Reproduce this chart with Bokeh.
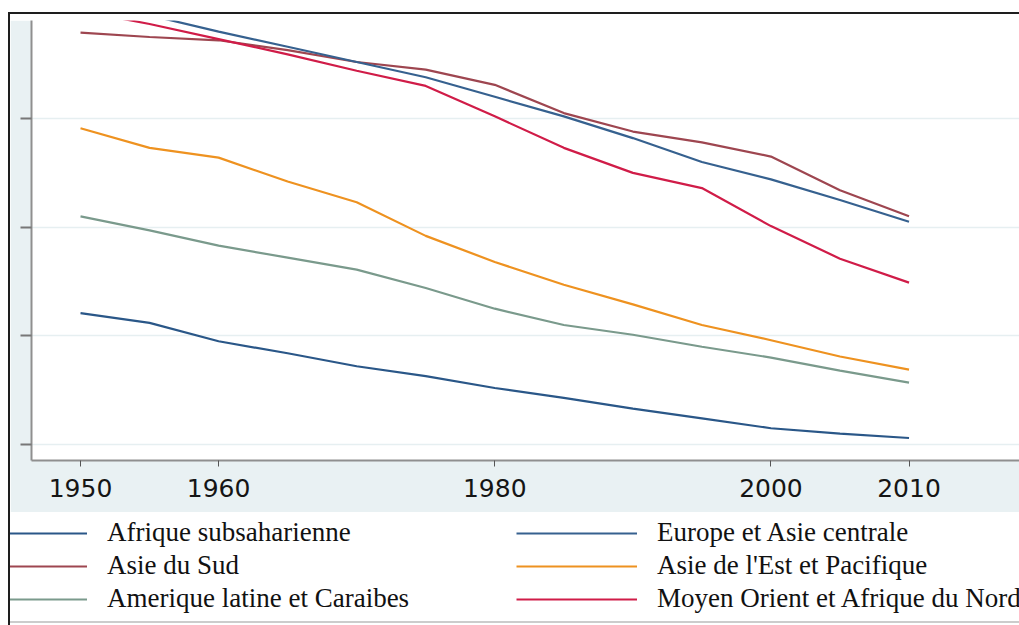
from bokeh.plotting import figure
from bokeh.models import (Legend, LegendItem, FixedTicker, CustomJSTickFormatter,
                          Range1d, Spacer)
from bokeh.layouts import column
from bokeh.embed import file_html
from bokeh.resources import INLINE

# ---------------- data ----------------
years = [1950, 1955, 1960, 1965, 1970, 1975, 1980, 1985, 1990, 1995, 2000, 2005, 2010]

afrique_subsaharienne = [2.21, 2.12, 1.95, 1.84, 1.72, 1.63, 1.52, 1.43, 1.33, 1.24, 1.15, 1.10, 1.06]
asie_du_sud = [4.79, 4.75, 4.72, 4.63, 4.52, 4.45, 4.31, 4.05, 3.88, 3.78, 3.65, 3.34, 3.10]
amerique_latine = [3.10, 2.97, 2.83, 2.72, 2.61, 2.44, 2.25, 2.10, 2.01, 1.90, 1.80, 1.68, 1.57]
europe_asie_centrale = [5.08, 4.95, 4.80, 4.66, 4.52, 4.38, 4.20, 4.02, 3.82, 3.60, 3.44, 3.25, 3.05]
asie_est_pacifique = [3.91, 3.73, 3.64, 3.42, 3.23, 2.92, 2.68, 2.47, 2.29, 2.10, 1.96, 1.81, 1.69]
moyen_orient = [4.99, 4.87, 4.73, 4.59, 4.44, 4.30, 4.02, 3.73, 3.50, 3.36, 3.01, 2.71, 2.49]

x_ticks = [1950, 1960, 1980, 2000, 2010]
y_ticks = [1, 2, 3, 4]

series = [
    ("Afrique subsaharienne", afrique_subsaharienne, "#2A5788"),
    ("Asie du Sud", asie_du_sud, "#9E4650"),
    ("Amerique latine et Caraibes", amerique_latine, "#7A9A8C"),
    ("Europe et Asie centrale", europe_asie_centrale, "#36618F"),
    ("Asie de l'Est et Pacifique", asie_est_pacifique, "#EE9220"),
    ("Moyen Orient et Afrique du Nord", moyen_orient, "#D01C48"),
]

BG = "#E9F1F3"

# ---------------- main chart ----------------
p = figure(width=1009, height=492, output_backend="svg", toolbar_location=None,
           x_range=Range1d(1946.45, 2018.0), y_range=Range1d(0.853, 4.902),
           min_border_left=21, min_border_right=0, min_border_top=0,
           min_border_bottom=52)
p.frame_align = False
p.border_fill_color = BG
p.background_fill_color = "white"
p.outline_line_color = None

for name, vals, col in series:
    p.line(years, vals, line_color=col, line_width=2.2)

p.xaxis.ticker = FixedTicker(ticks=x_ticks)
p.xaxis.axis_line_color = "#8F8F8F"
p.xaxis.axis_line_width = 2
p.xaxis.major_tick_line_color = "#555555"
p.xaxis.major_tick_line_width = 1
p.xaxis.major_tick_out = 6
p.xaxis.major_tick_in = 0
p.xaxis.minor_tick_line_color = None
p.xaxis.major_label_standoff = 12
p.xaxis.major_label_text_font = "DejaVu Sans"
p.xaxis.major_label_text_font_size = "25px"
p.xaxis.major_label_text_color = "#151515"

p.yaxis.ticker = FixedTicker(ticks=y_ticks)
p.yaxis.axis_line_color = "#8F8F8F"
p.yaxis.axis_line_width = 2
p.yaxis.major_tick_line_color = "#777777"
p.yaxis.major_tick_line_width = 2
p.yaxis.major_tick_out = 11
p.yaxis.major_tick_in = 0
p.yaxis.minor_tick_line_color = None
p.yaxis.formatter = CustomJSTickFormatter(code="return ''")
p.yaxis.major_label_standoff = 0

p.xgrid.grid_line_color = None
p.ygrid.ticker = FixedTicker(ticks=y_ticks)
p.ygrid.grid_line_color = "#E6EFF1"
p.ygrid.grid_line_width = 1.5

# ---------------- legend strip ----------------
pl = figure(width=1009, height=113, output_backend="svg", toolbar_location=None,
            x_axis_type=None, y_axis_type=None,
            x_range=Range1d(0, 1), y_range=Range1d(0, 1),
            min_border_left=0, min_border_right=0, min_border_top=0,
            min_border_bottom=0)
pl.frame_align = False
pl.border_fill_color = "white"
pl.background_fill_color = "white"
pl.outline_line_color = None
pl.grid.grid_line_color = None

items = []
for name, vals, col in series:
    r = pl.line(years, vals, line_color=col, line_width=2.2)
    items.append(LegendItem(label=name, renderers=[r]))

legend = Legend(items=items, location=(-53, 2), orientation="vertical", ncols=2,
                glyph_width=121, glyph_height=30, label_height=30,
                label_standoff=20, label_width=407, spacing=2, padding=7,
                margin=0,
                border_line_color="#9A9A9A", border_line_width=2,
                background_fill_color="white", background_fill_alpha=1,
                label_text_font="Liberation Serif", label_text_font_size="27px",
                label_text_color="#111111")
pl.add_layout(legend, "center")

layout = column(Spacer(width=1009, height=6), p, pl,
                styles={"margin-left": "8px", "margin-top": "12px",
                        "border-left": "2px solid #1E1E1E",
                        "border-top": "2px solid #1E1E1E"})

open("out.html", "w").write(file_html(layout, INLINE))
